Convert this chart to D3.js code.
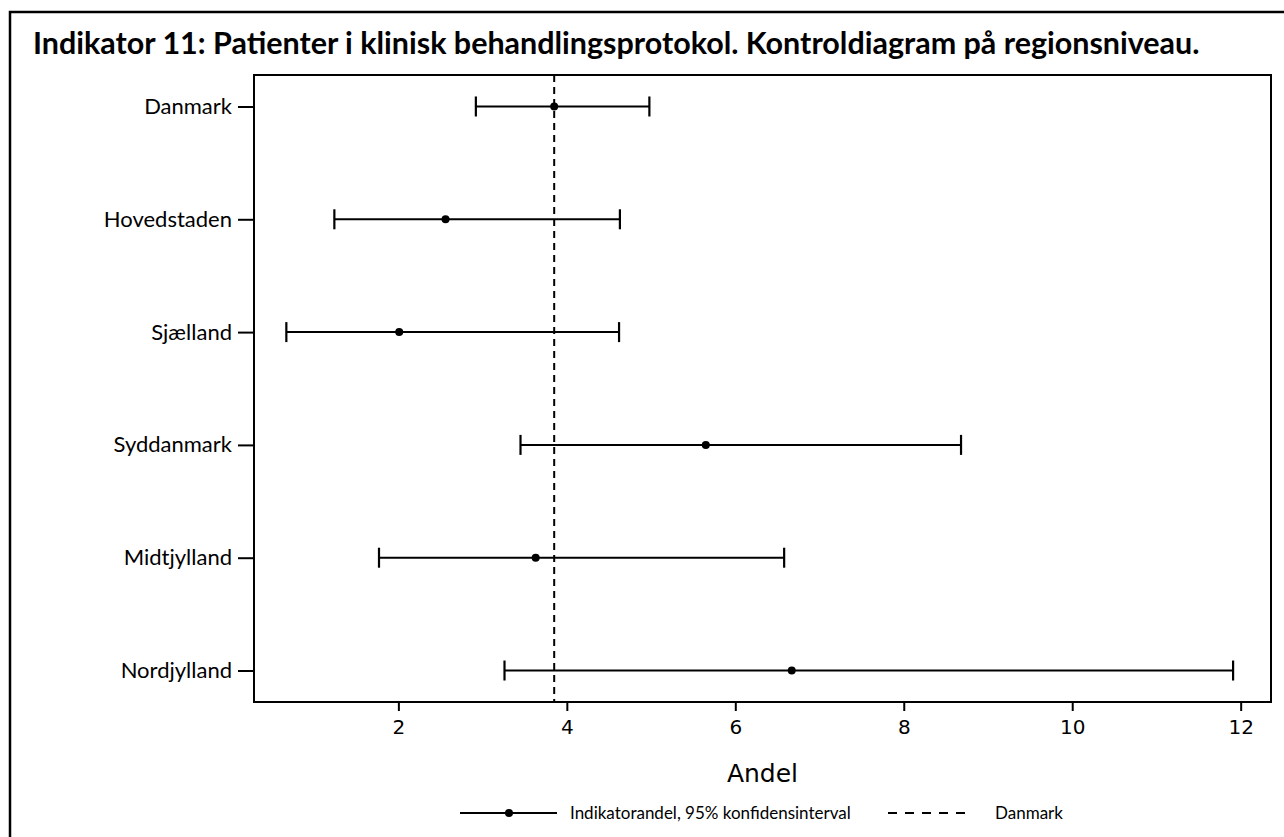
<!DOCTYPE html>
<html>
<head>
<meta charset="utf-8">
<script src="https://cdn.jsdelivr.net/npm/d3@7"></script>
<style>
  html, body { margin: 0; padding: 0; background: #fff; }
  svg { display: block; }
  text { font-family: Lato, "Open Sans", sans-serif; fill: #000; }
</style>
</head>
<body>
<svg id="chart" width="1284" height="837"></svg>
<script>
// Regions and their indicator share with 95% confidence interval
const regions = ["Danmark", "Hovedstaden", "Sjælland", "Syddanmark", "Midtjylland", "Nordjylland"];
const estimate = [3.85, 2.56, 2.01, 5.65, 3.63, 6.67];
const lower    = [2.92, 1.24, 0.67, 3.45, 1.77, 3.26];
const upper    = [4.98, 4.63, 4.62, 8.68, 6.58, 11.91];
const nationalLevel = 3.85;
const xTicks = [2, 4, 6, 8, 10, 12];

const titleText = "Indikator 11: Patienter i klinisk behandlingsprotokol. Kontroldiagram på regionsniveau.";
const xLabel = "Andel";
const legendCI = "Indikatorandel, 95% konfidensinterval";
const legendRef = "Danmark";

const svg = d3.select("#chart");
const plot = { left: 254, right: 1271, top: 75, bottom: 702 };

const x = d3.scaleLinear().domain([0.286, 12.36]).range([plot.left, plot.right]);
const y = d3.scalePoint().domain(regions).range([plot.top, plot.bottom]).padding(0.279);

// outer border (continues past the right and bottom edges of the canvas)
svg.append("rect")
  .attr("x", 10).attr("y", 12).attr("width", 1300).attr("height", 850)
  .attr("fill", "none").attr("stroke", "#000").attr("stroke-width", 2.5);

// title, sized so it spans its line
const title = svg.append("text")
  .attr("x", 33).attr("y", 54)
  .attr("font-size", 22).attr("font-weight", 700)
  .style("font-family", "Lato, sans-serif")
  .text(titleText);
const tw = title.node().getComputedTextLength();
title.attr("font-size", 22 * 1167 / tw);

// plot frame
svg.append("rect")
  .attr("x", plot.left).attr("y", plot.top)
  .attr("width", plot.right - plot.left).attr("height", plot.bottom - plot.top)
  .attr("fill", "none").attr("stroke", "#000").attr("stroke-width", 2);

// axes
const xAxis = svg.append("g")
  .attr("transform", `translate(0,${plot.bottom})`)
  .call(d3.axisBottom(x).tickValues(xTicks).tickSize(9).tickPadding(9).tickFormat(d3.format("d")));
xAxis.select(".domain").remove();
xAxis.selectAll(".tick line").attr("stroke-width", 2);
xAxis.selectAll(".tick text").attr("font-size", 20).style("font-family", "'DejaVu Sans', sans-serif");

const yAxis = svg.append("g")
  .attr("transform", `translate(${plot.left},0)`)
  .call(d3.axisLeft(y).tickSize(16).tickPadding(6));
yAxis.select(".domain").remove();
yAxis.selectAll(".tick line").attr("stroke-width", 2);
yAxis.selectAll(".tick text").attr("font-size", 22).style("font-family", "Lato, sans-serif");

// x axis label
svg.append("text")
  .attr("x", (plot.left + plot.right) / 2).attr("y", 782)
  .attr("text-anchor", "middle").attr("font-size", 25)
  .style("font-family", "'DejaVu Sans', sans-serif")
  .text(xLabel);

// national reference line
svg.append("line")
  .attr("x1", x(nationalLevel)).attr("x2", x(nationalLevel))
  .attr("y1", plot.top).attr("y2", plot.bottom)
  .attr("stroke", "#000").attr("stroke-width", 2).attr("stroke-dasharray", "7,5");

// confidence intervals
const rows = regions.map((r, i) => ({ r, est: estimate[i], lo: lower[i], hi: upper[i] }));
const ci = svg.append("g").selectAll("g").data(rows).join("g");
ci.append("line")
  .attr("x1", d => x(d.lo)).attr("x2", d => x(d.hi))
  .attr("y1", d => y(d.r)).attr("y2", d => y(d.r))
  .attr("stroke", "#000").attr("stroke-width", 2);
ci.append("line")
  .attr("x1", d => x(d.lo)).attr("x2", d => x(d.lo))
  .attr("y1", d => y(d.r) - 10).attr("y2", d => y(d.r) + 10)
  .attr("stroke", "#000").attr("stroke-width", 2.2);
ci.append("line")
  .attr("x1", d => x(d.hi)).attr("x2", d => x(d.hi))
  .attr("y1", d => y(d.r) - 10).attr("y2", d => y(d.r) + 10)
  .attr("stroke", "#000").attr("stroke-width", 2.2);
ci.append("circle")
  .attr("cx", d => x(d.est)).attr("cy", d => y(d.r)).attr("r", 4)
  .attr("fill", "#000");

// legend
const ly = 813;
const legend = svg.append("g");
legend.append("line").attr("x1", 460).attr("x2", 557).attr("y1", ly).attr("y2", ly)
  .attr("stroke", "#000").attr("stroke-width", 2);
legend.append("circle").attr("cx", 509).attr("cy", ly).attr("r", 4).attr("fill", "#000");
legend.append("text").attr("x", 570).attr("y", ly).attr("dy", "0.35em")
  .attr("font-size", 17).text(legendCI);
legend.append("line").attr("x1", 888).attr("x2", 971).attr("y1", ly).attr("y2", ly)
  .attr("stroke", "#000").attr("stroke-width", 2).attr("stroke-dasharray", "9,8");
legend.append("text").attr("x", 995).attr("y", ly).attr("dy", "0.35em")
  .attr("font-size", 17).text(legendRef);
</script>
</body>
</html>
